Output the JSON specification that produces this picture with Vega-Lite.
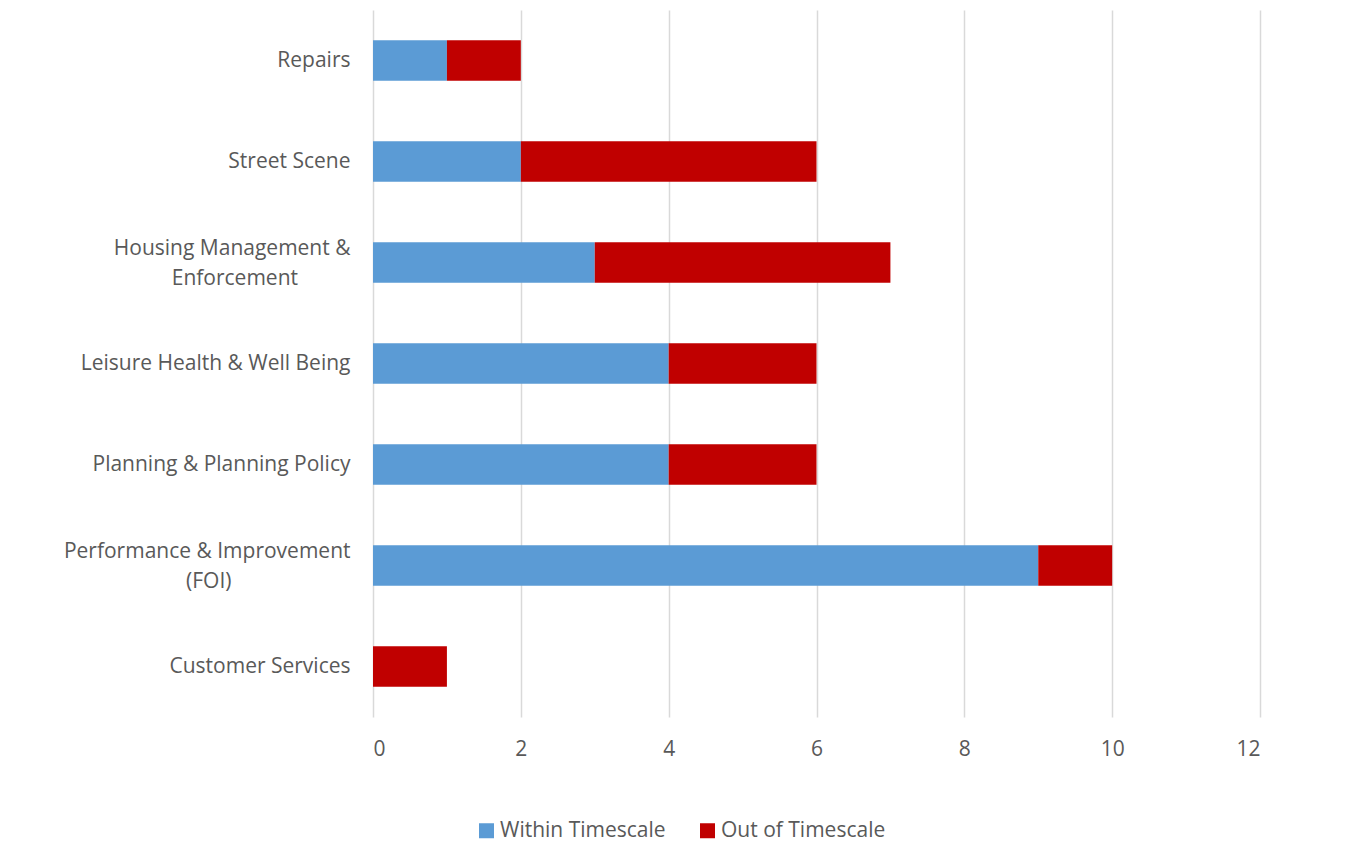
{
  "$schema": "https://vega.github.io/schema/vega-lite/v6.json",
  "autosize": "none",
  "width": 887,
  "height": 707,
  "padding": {"left": 373, "top": 10, "right": 91, "bottom": 144},
  "background": "white",
  "config": {
    "view": {"stroke": null},
    "font": "Open Sans",
    "axis": {"labelFont": "Open Sans", "labelFontSize": 21, "labelColor": "#595959"},
    "legend": {"labelFont": "Open Sans", "labelFontSize": 21, "labelColor": "#595959", "labelLimit": 400}
  },
  "data": {
    "values": [
      {"dept": "Repairs", "status": "Within Timescale", "k": 1, "count": 1},
      {"dept": "Repairs", "status": "Out of Timescale", "k": 2, "count": 1},
      {"dept": "Street Scene", "status": "Within Timescale", "k": 1, "count": 2},
      {"dept": "Street Scene", "status": "Out of Timescale", "k": 2, "count": 4},
      {"dept": "Housing Management & Enforcement", "status": "Within Timescale", "k": 1, "count": 3},
      {"dept": "Housing Management & Enforcement", "status": "Out of Timescale", "k": 2, "count": 4},
      {"dept": "Leisure Health & Well Being", "status": "Within Timescale", "k": 1, "count": 4},
      {"dept": "Leisure Health & Well Being", "status": "Out of Timescale", "k": 2, "count": 2},
      {"dept": "Planning & Planning Policy", "status": "Within Timescale", "k": 1, "count": 4},
      {"dept": "Planning & Planning Policy", "status": "Out of Timescale", "k": 2, "count": 2},
      {"dept": "Performance & Improvement (FOI)", "status": "Within Timescale", "k": 1, "count": 9},
      {"dept": "Performance & Improvement (FOI)", "status": "Out of Timescale", "k": 2, "count": 1},
      {"dept": "Customer Services", "status": "Within Timescale", "k": 1, "count": 0},
      {"dept": "Customer Services", "status": "Out of Timescale", "k": 2, "count": 1}
    ]
  },
  "mark": {"type": "bar"},
  "encoding": {
    "y": {
      "field": "dept",
      "type": "nominal",
      "sort": ["Repairs", "Street Scene", "Housing Management & Enforcement", "Leisure Health & Well Being", "Planning & Planning Policy", "Performance & Improvement (FOI)", "Customer Services"],
      "scale": {"paddingInner": 0.6, "paddingOuter": 0.3},
      "axis": {
        "title": null,
        "domain": false,
        "ticks": false,
        "labelPadding": 23,
        "labelLineHeight": 30,
        "labelLimit": 400,
        "labelOffset": {"condition": {"test": "datum.value == 'Housing Management & Enforcement' || datum.value == 'Performance & Improvement (FOI)'", "value": -14}, "value": 0},
        "labelExpr": "datum.value == 'Housing Management & Enforcement' ? ['Housing Management &', 'Enforcement\u2002\u2002\u2002\u2002\u2002\u2060'] : datum.value == 'Performance & Improvement (FOI)' ? ['Performance & Improvement', '(FOI)\u2002\u2002\u2002\u2002\u2002\u2002\u2002\u2002\u2002\u2002\u2002\u2009\u2060'] : datum.value"
      }
    },
    "x": {
      "field": "count",
      "type": "quantitative",
      "stack": "zero",
      "scale": {"domain": [0, 12], "nice": false},
      "axis": {
        "title": null,
        "domain": false,
        "ticks": false,
        "values": [0, 2, 4, 6, 8, 10, 12],
        "grid": true,
        "gridColor": "#D9D9D9",
        "gridWidth": 1.5,
        "labelPadding": 21
      }
    },
    "order": {"field": "k", "type": "quantitative"},
    "color": {
      "field": "status",
      "type": "nominal",
      "scale": {"domain": ["Within Timescale", "Out of Timescale"], "range": ["#5B9BD5", "#C00000"]},
      "legend": {
        "title": null,
        "orient": "none",
        "direction": "horizontal",
        "legendX": 103,
        "legendY": 810,
        "symbolType": "square",
        "symbolSize": 225,
        "symbolStrokeWidth": 0,
        "labelOffset": 3,
        "labelLimit": 400,
        "columnPadding": 31
      }
    }
  }
}
